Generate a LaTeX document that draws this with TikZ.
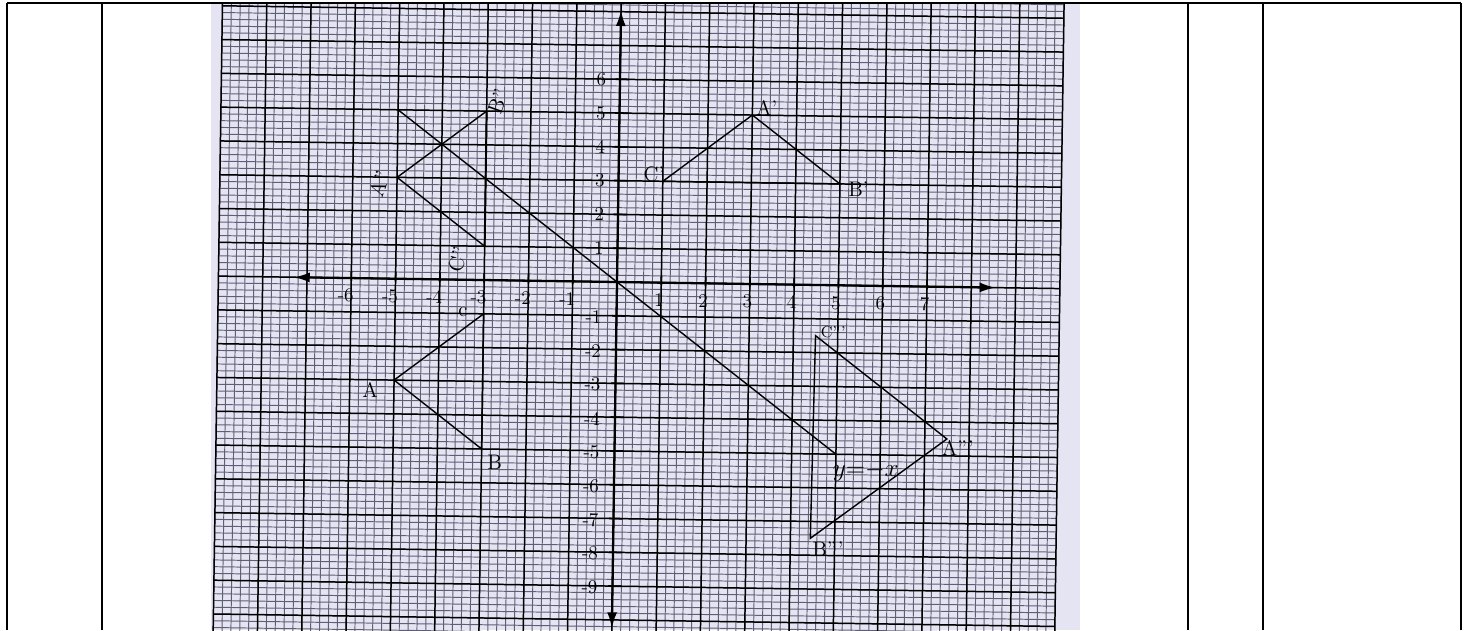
\documentclass[tikz,border=0pt]{standalone}
\usetikzlibrary{arrows.meta}
\definecolor{paper}{RGB}{228,228,242}
\definecolor{gridfine}{RGB}{95,95,115}
\begin{document}
\begin{tikzpicture}[x=0.02cm,y=-0.02cm,
  tableline/.style={line width=1.1pt},
  fineline/.style={draw=gridfine,line width=0.55pt},
  majline/.style={draw=black,line width=0.85pt},
  axisline/.style={line width=1.3pt,{Latex[length=0.32cm,width=0.2cm]}-{Latex[length=0.32cm,width=0.2cm]}},
  tickmark/.style={line width=1pt},
  figline/.style={line width=0.8pt},
  ticklbl/.style={font=\fontsize{11}{12}\selectfont,inner sep=0pt},
  ptlbl/.style={font=\fontsize{12}{14}\selectfont,inner sep=0pt}]
\useasboundingbox (0,0) rectangle (1466,630);
\fill[white] (0,0) rectangle (1466,630);
\begin{scope}
  \clip (211,3) rectangle (1080,630);
  \fill[paper] (211,3) rectangle (1080,630);
  \begin{scope}[shift={(617,282)},rotate=-0.85,x=0.886cm,y=0.676cm]
    % graph paper
    \foreach \i in {-45,...,50} \draw[fineline] (\i/5,-10.8) -- (\i/5,8.6);
    \foreach \j in {-54,...,43} \draw[fineline] (-9,\j/5) -- (10,\j/5);
    \foreach \i in {-9,...,10} \draw[majline] (\i,-10.8) -- (\i,8.6);
    \foreach \j in {-10,...,8} \draw[majline] (-9,\j) -- (10,\j);
    % axes
    \coordinate (xl) at (-7.3,0);
    \coordinate (xr) at (8.55,0);
    \coordinate (yt) at (0,8.05);
    \coordinate (yb) at (0,-10.25);
    \draw[axisline] (xl) -- (xr);
    \draw[axisline] (yb) -- (yt);
    \foreach \i in {-6,...,-1,1,2,...,7} \draw[tickmark] (\i,-0.08) -- (\i,0.2);
    \foreach \j in {-9,...,-1,1,2,...,6} \draw[tickmark] (-0.1,\j) -- (0.2,\j);
    \foreach \i in {-6,...,-1} \node[ticklbl] (xn\i) at (\i-0.12,-0.52) {\i};
    \foreach \i in {1,...,7} \node[ticklbl] (xp\i) at (\i-0.05,-0.52) {\i};
    \foreach \j in {1,...,6} \node[ticklbl] (yp\j) at (-0.42,\j) {\j};
    \foreach \j in {-9,...,-1} \node[ticklbl] (yn\j) at (-0.52,\j-0.05) {\j};
    % line y = -x
    \coordinate (L1) at (-5,5);
    \coordinate (L2) at (5,-5);
    \draw[figline] (L1) -- (L2);
    \node[ptlbl,font=\fontsize{14}{16}\selectfont] (leq) at (5.68,-5.5) {$y{=}{-}x$};
    % triangle ABC
    \coordinate (A) at (-5,-3);
    \coordinate (B) at (-3,-5);
    \coordinate (C) at (-3,-1);
    \draw[figline] (A) -- (C) -- (B) -- cycle;
    \node[ptlbl] (lA) at (-5.54,-3.3) {A};
    \node[ptlbl] (lB) at (-2.7,-5.4) {B};
    \node[ptlbl] (lC) at (-3.47,-0.95) {c};
    % triangle A'B'C'
    \coordinate (A1) at (3,5);
    \coordinate (B1) at (5,3);
    \coordinate (C1) at (1,3);
    \draw[figline] (C1) -- (A1) -- (B1) -- cycle;
    \node[ptlbl] (lA1) at (3.32,5.21) {A'};
    \node[ptlbl] (lB1) at (5.42,2.85) {B'};
    \node[ptlbl] (lC1) at (0.8,3.21) {C'};
    % triangle A''B''C''
    \coordinate (A2) at (-5,3);
    \coordinate (B2) at (-3,5);
    \coordinate (C2) at (-3,1);
    \draw[figline] (A2) -- (B2);
    \draw[figline] (A2) -- (C2);
    \draw[line width=1.1pt] (B2) -- (C2);
    \node[ptlbl,rotate=70] (lA2) at (-5.4,2.8) {A''};
    \node[ptlbl,rotate=70] (lB2) at (-2.75,5.3) {B''};
    \node[ptlbl,rotate=75] (lC2) at (-3.6,0.6) {C''};
    % triangle A'''B'''C'''
    \coordinate (A3) at (7.5,-4.5);
    \coordinate (B3) at (4.45,-7.5);
    \coordinate (C3) at (4.5,-1.5);
    \draw[figline] (C3) -- (A3) -- (B3) -- cycle;
    \node[ptlbl] (lA3) at (7.75,-4.75) {A'''};
    \node[ptlbl] (lB3) at (4.85,-7.8) {B'''};
    \node[ptlbl,font=\fontsize{9}{10}\selectfont] (lC3) at (4.9,-1.4) {C'''};
  \end{scope}
\end{scope}
% table frame
\draw[tableline] (7,3) -- (1461,3);
\foreach \x in {7,102,1188,1263,1461} \draw[tableline] (\x,3) -- (\x,630);
\end{tikzpicture}
\end{document}
